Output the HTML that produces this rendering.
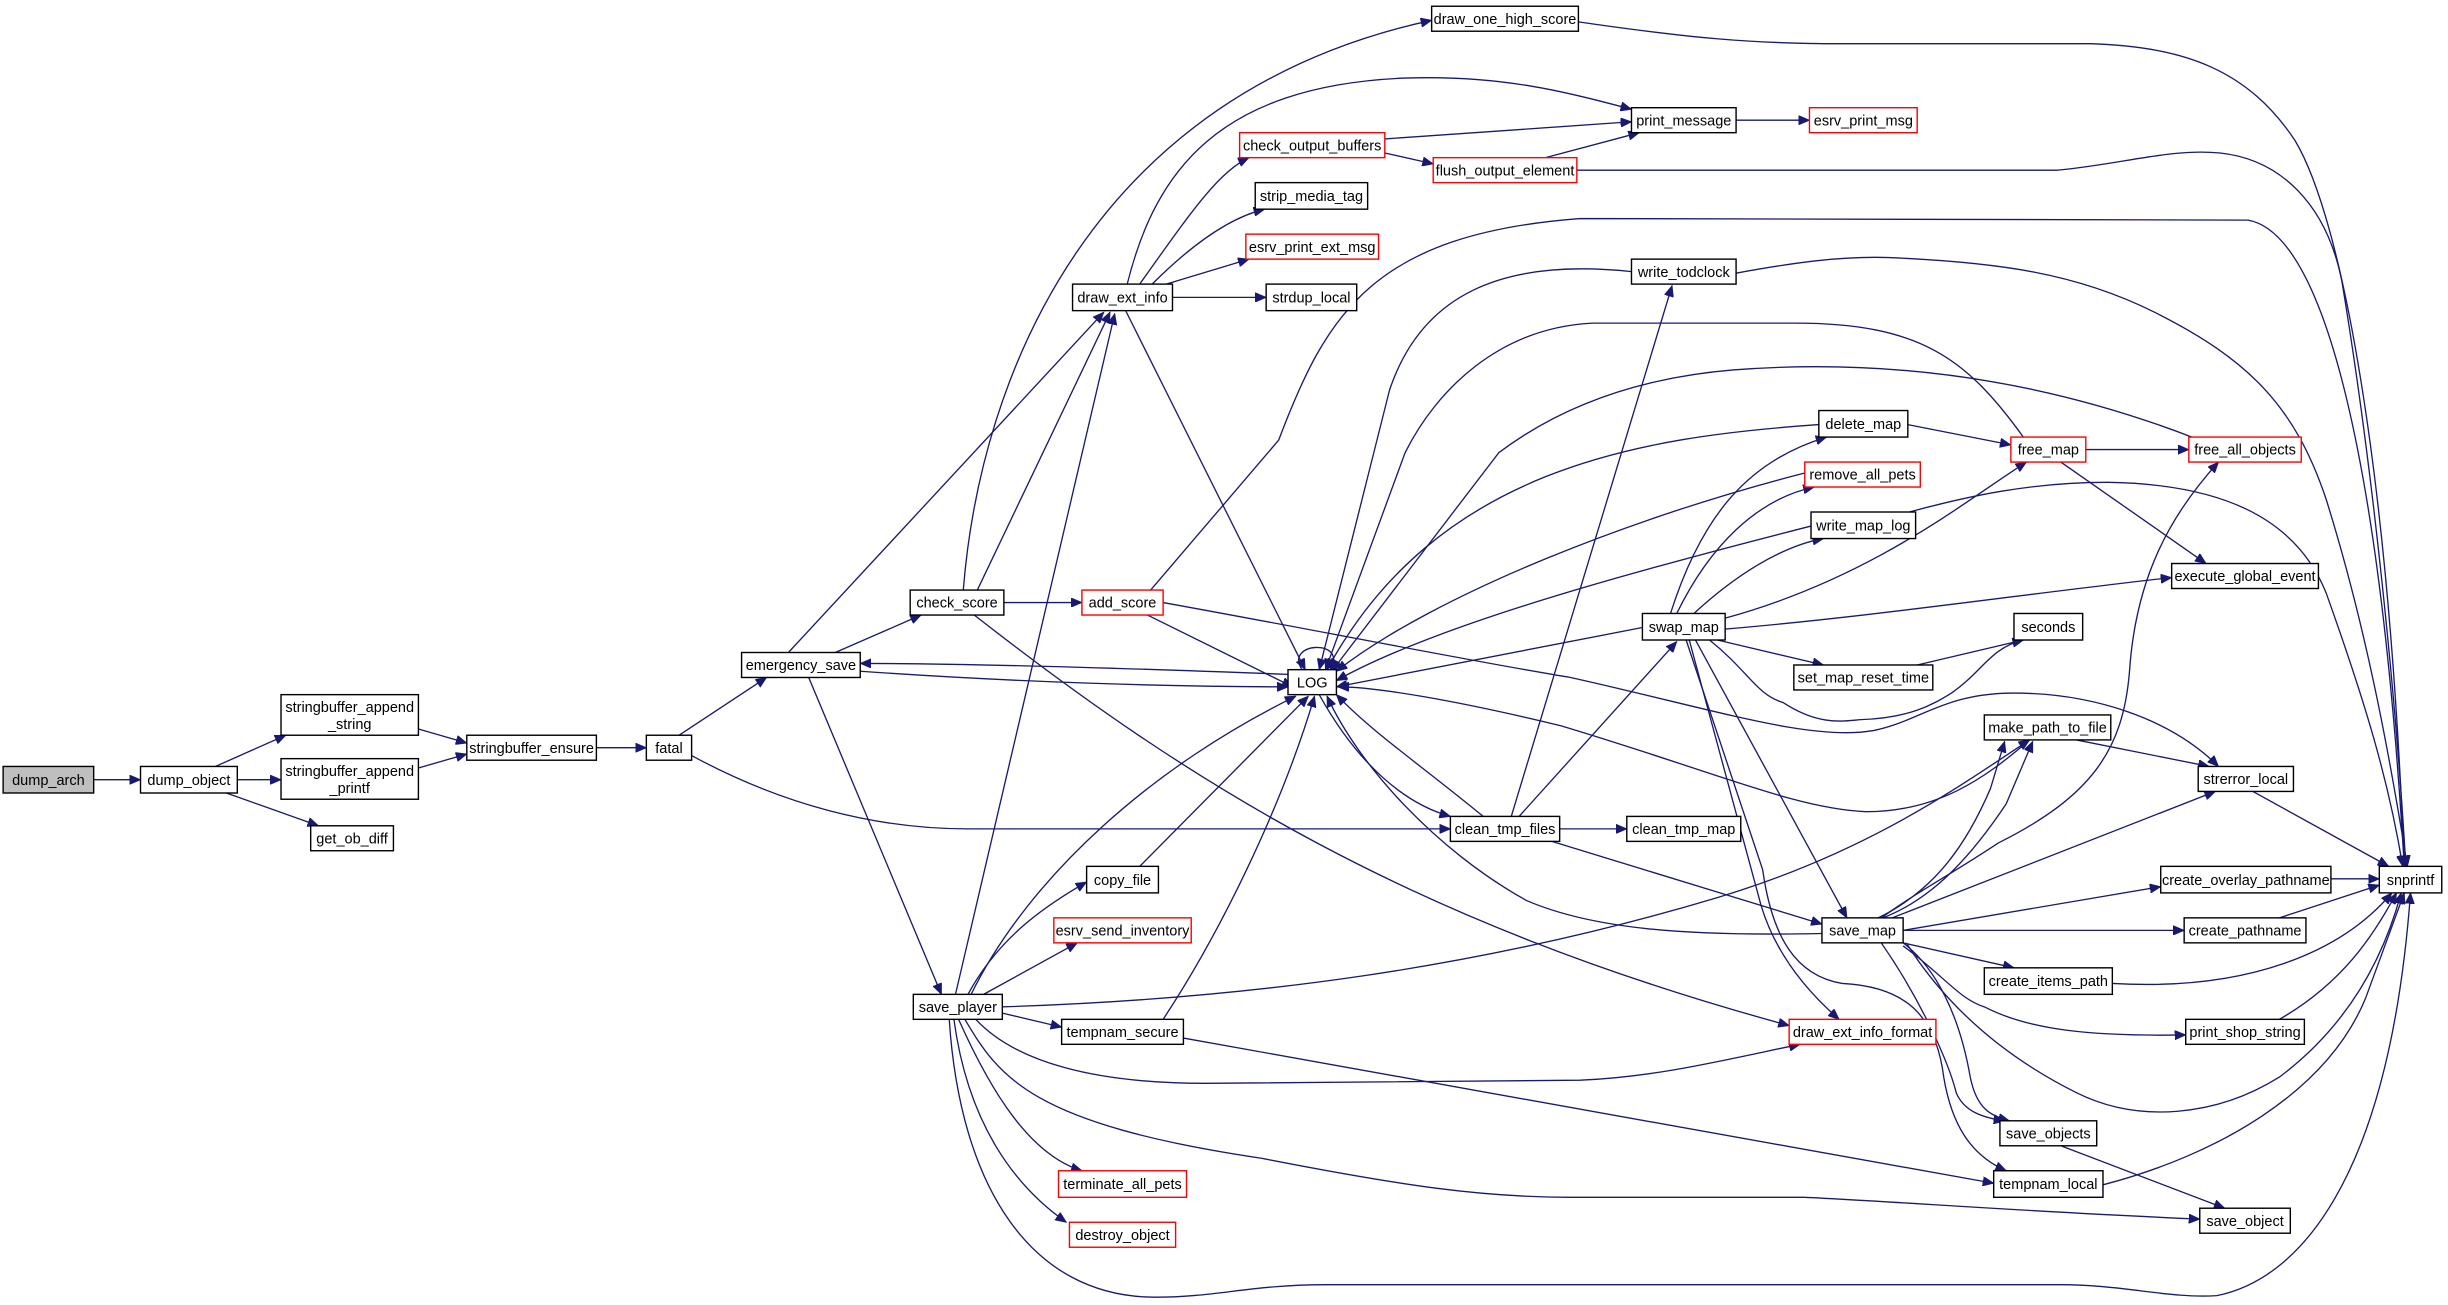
<!DOCTYPE html>
<html><head><meta charset="utf-8"><style>
html,body{margin:0;padding:0;background:#fff;}
svg{display:block;}
text{font-family:"Liberation Sans",sans-serif;font-size:9.3px;fill:#000;text-anchor:middle;}
.e{fill:none;stroke:#191970;stroke-width:0.85;marker-end:url(#a);}
rect{fill:#fff;stroke:#000;stroke-width:0.9;}
rect.r{stroke:#ff0000;}
</style></head><body>
<svg width="2448" height="1305" viewBox="0 0 1568 836" preserveAspectRatio="none" xmlns="http://www.w3.org/2000/svg">
<defs><marker id="a" markerUnits="userSpaceOnUse" markerWidth="8" markerHeight="6" refX="7" refY="3" orient="auto"><path d="M0,0 L7,3 L0,6 z" fill="#191970" stroke="#191970" stroke-width="0.5"/></marker></defs>
<g>
<path class="e" d="M60,499.5 L90,499.5"/>
<path class="e" d="M138,491 L183,471"/>
<path class="e" d="M152,499.5 L180,499.5"/>
<path class="e" d="M145,508 L204,529"/>
<path class="e" d="M268,467 L299,476"/>
<path class="e" d="M268,492 L299,483"/>
<path class="e" d="M382,479 L414,479"/>
<path class="e" d="M435,471 L491,434"/>
<path class="e" d="M443,484 C500,515 560,531 620,531 L929,531"/>
<path class="e" d="M535,418 L590,394"/>
<path class="e" d="M505,418 L707,200"/>
<path class="e" d="M518,434 L603,637"/>
<path class="e" d="M551,430 C650,437 750,440 825,440"/>
<path class="e" d="M825,432 C720,428 620,425 551,425"/>
<path class="e" d="M643,386 L693,386"/>
<path class="e" d="M617,378 C628,240 700,60 917,13"/>
<path class="e" d="M626,378 L711,200"/>
<path class="e" d="M624,394 C760,500 900,590 1146,657"/>
<path class="e" d="M735,394 L828,440"/>
<path class="e" d="M737,378 L819,282 C850,200 880,150 1012,140 L1440,141 C1490,150 1525,300 1540,555"/>
<path class="e" d="M745,386 C850,405 950,425 1006,434 C1100,455 1160,475 1200,468 C1230,462 1245,444 1290,444 C1340,444 1390,460 1421,491"/>
<path class="e" d="M1045,174 C960,165 910,190 890,250 L845,429"/>
<path class="e" d="M1296,280 C1260,230 1230,207 1150,207 L1020,207 C960,210 920,250 900,290 L849,429"/>
<path class="e" d="M1404,280 C1300,240 1200,230 1110,237 C1050,242 1000,260 960,290 L853,430"/>
<path class="e" d="M722,182 C740,110 780,55 900,50 C960,48 1000,58 1045,70"/>
<path class="e" d="M612,637 L714,201"/>
<path class="e" d="M721,199 L836,429"/>
<path class="e" d="M730,182 C760,140 780,110 800,101"/>
<path class="e" d="M738,182 C760,160 785,140 810,134"/>
<path class="e" d="M747,182 L800,166"/>
<path class="e" d="M751,190.5 L811,190.5"/>
<path class="e" d="M887,98 L918,105"/>
<path class="e" d="M887,89 L1045,78"/>
<path class="e" d="M990,101 L1050,85"/>
<path class="e" d="M1112,77 L1159,77"/>
<path class="e" d="M1011,14 C1080,24 1120,28 1178,28 L1339,28 C1400,30 1440,45 1470,90 C1500,140 1530,300 1540,555"/>
<path class="e" d="M1010,109 L1318,109 C1360,105 1390,95 1422,98 C1460,102 1490,130 1500,180 C1520,300 1535,450 1541,555"/>
<path class="e" d="M1112,175 C1150,168 1180,164 1210,165 C1280,168 1330,175 1380,200 C1440,230 1470,260 1490,320 C1515,400 1530,480 1542,555"/>
<path class="e" d="M1223,328 C1260,318 1300,309 1350,309 C1420,310 1470,330 1490,380 C1515,450 1530,500 1539,555"/>
<path class="e" d="M1165,272 C1050,280 920,300 850,429"/>
<path class="e" d="M1156,303 C1050,330 920,380 856,430"/>
<path class="e" d="M1160,337 C1050,365 920,400 856,436"/>
<path class="e" d="M1052,402 L856,440"/>
<path class="e" d="M1222,272 L1288,285"/>
<path class="e" d="M1070,393 C1090,330 1120,295 1170,280"/>
<path class="e" d="M1074,393 C1095,350 1125,320 1162,312"/>
<path class="e" d="M1085,393 C1110,370 1140,350 1168,345"/>
<path class="e" d="M1105,396 C1200,370 1260,320 1298,296"/>
<path class="e" d="M1105,403 C1200,395 1300,380 1391,370"/>
<path class="e" d="M1320,296 L1413,361"/>
<path class="e" d="M1336,288 L1402,288"/>
<path class="e" d="M1100,410 L1168,426"/>
<path class="e" d="M1228,426 L1296,410"/>
<path class="e" d="M1095,410 C1120,430 1125,445 1142,450 C1165,465 1180,462 1192,461 C1225,460 1240,450 1250,444 C1270,430 1275,415 1296,410"/>
<path class="e" d="M968,523 L1071,183"/>
<path class="e" d="M973,523 L1074,411"/>
<path class="e" d="M999,531 L1042,531"/>
<path class="e" d="M994,539 L1167,592"/>
<path class="e" d="M845,445 C870,490 900,515 929,523"/>
<path class="e" d="M950,523 C910,490 880,470 856,445"/>
<path class="e" d="M834,429 C822,411 864,409 852,429"/>
<path class="e" d="M1086,410 L1183,588"/>
<path class="e" d="M1082,410 L1128,580 Q1140,620 1178,653"/>
<path class="e" d="M1080,410 L1129,557 C1135,600 1150,625 1180,630 C1220,632 1240,650 1245,690 C1250,720 1262,740 1285,750"/>
<path class="e" d="M1167,598 C1080,600 1020,595 978,577 C920,545 870,490 850,446"/>
<path class="e" d="M1300,474 C1270,500 1240,520 1195,520 C1150,518 1100,495 1000,465 C930,448 880,440 857,440"/>
<path class="e" d="M1205,588 C1230,570 1250,560 1280,540 C1340,510 1360,480 1364,430 C1368,370 1390,330 1421,296"/>
<path class="e" d="M1203,588 C1240,570 1260,540 1275,505 L1284,475"/>
<path class="e" d="M1206,588 C1240,575 1265,545 1285,515 L1302,475"/>
<path class="e" d="M1212,588 L1419,507"/>
<path class="e" d="M1330,474 L1415,491"/>
<path class="e" d="M1443,507 L1530,555"/>
<path class="e" d="M1219,596 L1384,568"/>
<path class="e" d="M1219,596 L1399,596"/>
<path class="e" d="M1219,604 L1290,620"/>
<path class="e" d="M1219,606 C1245,625 1255,640 1271,645 C1300,660 1340,664 1400,663"/>
<path class="e" d="M1221,604 C1250,650 1290,680 1330,700 C1370,720 1420,715 1460,690 C1500,660 1525,620 1538,572"/>
<path class="e" d="M1219,604 C1240,620 1255,650 1262,690 C1266,710 1275,715 1287,718"/>
<path class="e" d="M1205,604 C1230,640 1248,680 1253,700 C1258,712 1270,716 1284,718"/>
<path class="e" d="M1353,630 C1440,635 1500,610 1532,572"/>
<path class="e" d="M1460,653 C1500,630 1520,600 1535,572"/>
<path class="e" d="M1347,759 C1420,740 1490,700 1515,640 L1540,572"/>
<path class="e" d="M1493,563 L1524,563"/>
<path class="e" d="M1460,588 L1524,567"/>
<path class="e" d="M1320,734 L1425,774"/>
<path class="e" d="M642,645 C800,640 950,620 1100,575 C1200,545 1260,500 1300,474"/>
<path class="e" d="M625,653 C650,680 700,694 772,694 L1012,692 C1060,690 1100,680 1153,669"/>
<path class="e" d="M618,653 C640,690 660,720 808,742 C900,760 950,767 1006,767 L1156,767 C1220,770 1293,776 1409,781"/>
<path class="e" d="M642,649 L680,658"/>
<path class="e" d="M630,637 L690,604"/>
<path class="e" d="M620,637 C640,600 670,580 696,565"/>
<path class="e" d="M614,653 C635,700 660,740 693,750"/>
<path class="e" d="M611,653 C620,720 650,760 683,783"/>
<path class="e" d="M608,653 C615,760 660,831 740,831 C780,831 800,823 850,823 L1320,823 C1360,823 1390,832 1420,830 C1470,820 1530,760 1544,572"/>
<path class="e" d="M622,637 C660,560 740,490 830,446"/>
<path class="e" d="M730,555 L838,446"/>
<path class="e" d="M745,653 C780,600 820,520 842,446"/>
<path class="e" d="M758,665 L1277,758"/>
</g>
<g>
<rect x="2" y="491" width="58" height="17" style="fill:#bfbfbf"/><text x="31" y="502.8">dump_arch</text>
<rect x="90" y="491" width="62" height="17"/><text x="121" y="502.8">dump_object</text>
<rect x="180" y="445" width="88" height="26"/><text x="224" y="456">stringbuffer_append</text><text x="224" y="467">_string</text>
<rect x="180" y="486" width="88" height="26"/><text x="224" y="497">stringbuffer_append</text><text x="224" y="508">_printf</text>
<rect x="199" y="529" width="53" height="16"/><text x="225.5" y="540.3">get_ob_diff</text>
<rect x="299" y="471" width="83" height="16"/><text x="340.5" y="482.3">stringbuffer_ensure</text>
<rect x="414" y="471" width="29" height="16"/><text x="428.5" y="482.3">fatal</text>
<rect x="475" y="418" width="76" height="16"/><text x="513" y="429.3">emergency_save</text>
<rect x="583" y="378" width="60" height="16"/><text x="613" y="389.3">check_score</text>
<rect class="r" x="693" y="378" width="52" height="16"/><text x="719" y="389.3">add_score</text>
<rect x="825" y="429" width="31" height="16"/><text x="840.5" y="440.3">LOG</text>
<rect x="929" y="523" width="70" height="16"/><text x="964" y="534.3">clean_tmp_files</text>
<rect x="1042" y="523" width="73" height="16"/><text x="1078.5" y="534.3">clean_tmp_map</text>
<rect x="917" y="4" width="94" height="16"/><text x="964" y="15.3">draw_one_high_score</text>
<rect class="r" x="794" y="85" width="93" height="16"/><text x="840.5" y="96.3">check_output_buffers</text>
<rect class="r" x="918" y="101" width="92" height="16"/><text x="964" y="112.3">flush_output_element</text>
<rect x="804" y="117" width="72" height="17"/><text x="840" y="128.8">strip_media_tag</text>
<rect class="r" x="798" y="150" width="85" height="16"/><text x="840.5" y="161.3">esrv_print_ext_msg</text>
<rect x="687" y="182" width="64" height="17"/><text x="719" y="193.8">draw_ext_info</text>
<rect x="811" y="182" width="58" height="17"/><text x="840" y="193.8">strdup_local</text>
<rect x="1045" y="69" width="67" height="16"/><text x="1078.5" y="80.3">print_message</text>
<rect class="r" x="1159" y="69" width="69" height="16"/><text x="1193.5" y="80.3">esrv_print_msg</text>
<rect x="1045" y="166" width="67" height="16"/><text x="1078.5" y="177.3">write_todclock</text>
<rect x="1165" y="263" width="57" height="17"/><text x="1193.5" y="274.8">delete_map</text>
<rect class="r" x="1288" y="280" width="48" height="16"/><text x="1312" y="291.3">free_map</text>
<rect class="r" x="1402" y="280" width="72" height="16"/><text x="1438" y="291.3">free_all_objects</text>
<rect class="r" x="1156" y="296" width="74" height="16"/><text x="1193" y="307.3">remove_all_pets</text>
<rect x="1160" y="328" width="67" height="17"/><text x="1193.5" y="339.8">write_map_log</text>
<rect x="1391" y="361" width="94" height="16"/><text x="1438" y="372.3">execute_global_event</text>
<rect x="1052" y="393" width="53" height="17"/><text x="1078.5" y="404.8">swap_map</text>
<rect x="1290" y="393" width="44" height="17"/><text x="1312" y="404.8">seconds</text>
<rect x="1149" y="426" width="89" height="16"/><text x="1193.5" y="437.3">set_map_reset_time</text>
<rect x="1271" y="458" width="81" height="16"/><text x="1311.5" y="469.3">make_path_to_file</text>
<rect x="1408" y="491" width="61" height="16"/><text x="1438.5" y="502.3">strerror_local</text>
<rect x="1384" y="555" width="109" height="17"/><text x="1438.5" y="566.8">create_overlay_pathname</text>
<rect x="1524" y="555" width="40" height="17"/><text x="1544" y="566.8">snprintf</text>
<rect x="1167" y="588" width="52" height="16"/><text x="1193" y="599.3">save_map</text>
<rect x="1399" y="588" width="78" height="16"/><text x="1438" y="599.3">create_pathname</text>
<rect x="1271" y="620" width="82" height="17"/><text x="1312" y="631.8">create_items_path</text>
<rect class="r" x="1146" y="653" width="94" height="16"/><text x="1193" y="664.3">draw_ext_info_format</text>
<rect x="1400" y="653" width="76" height="16"/><text x="1438" y="664.3">print_shop_string</text>
<rect x="1281" y="718" width="62" height="16"/><text x="1312" y="729.3">save_objects</text>
<rect x="1277" y="750" width="70" height="17"/><text x="1312" y="761.8">tempnam_local</text>
<rect x="1409" y="774" width="58" height="16"/><text x="1438" y="785.3">save_object</text>
<rect x="696" y="555" width="46" height="17"/><text x="719" y="566.8">copy_file</text>
<rect class="r" x="675" y="588" width="88" height="16"/><text x="719" y="599.3">esrv_send_inventory</text>
<rect x="585" y="637" width="57" height="16"/><text x="613.5" y="648.3">save_player</text>
<rect x="680" y="653" width="78" height="16"/><text x="719" y="664.3">tempnam_secure</text>
<rect class="r" x="678" y="750" width="82" height="17"/><text x="719" y="761.8">terminate_all_pets</text>
<rect class="r" x="685" y="783" width="68" height="16"/><text x="719" y="794.3">destroy_object</text>
</g>
</svg>
</body></html>
